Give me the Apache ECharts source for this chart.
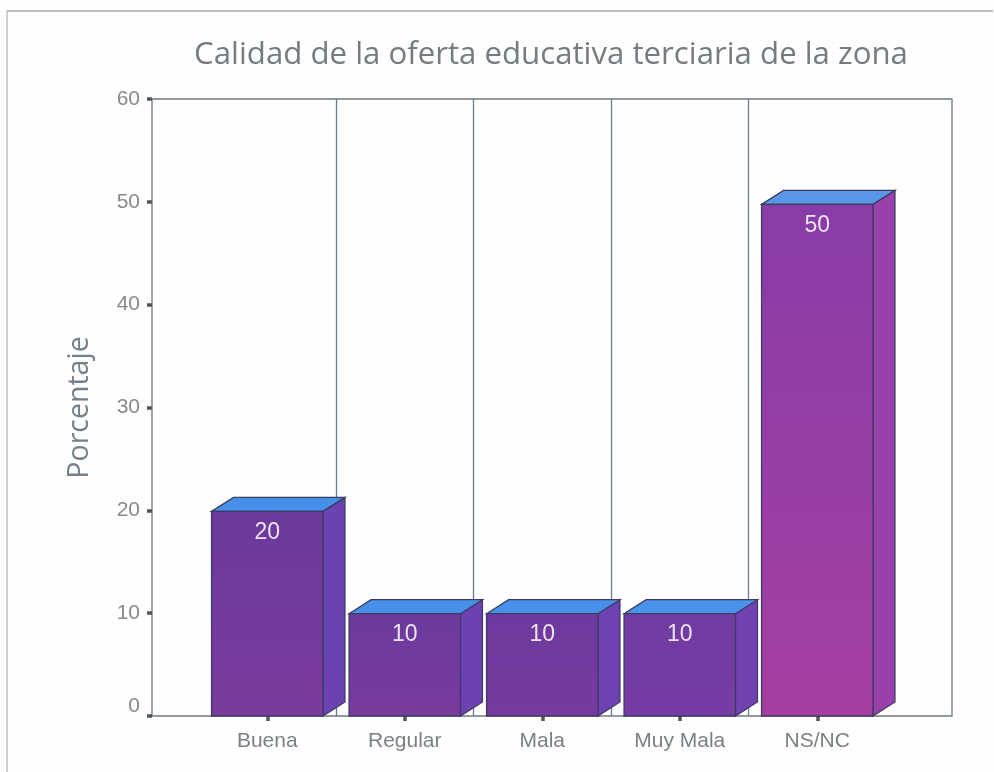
<!DOCTYPE html>
<html><head><meta charset="utf-8">
<style>html,body{margin:0;padding:0;background:#fefefe}#c{width:994px;height:772px}</style>
<script src="https://cdn.jsdelivr.net/npm/echarts@6/dist/echarts.min.js"></script>
</head><body><div id="c"></div>
<script>
const categories = ['Buena', 'Regular', 'Mala', 'Muy Mala', 'NS/NC'];
const percentages = [20, 10, 10, 10, 50];
const yRange = [0, 60];
const barAxisMax = 60.3;
const titleText = 'Calidad de la oferta educativa terciaria de la zona';
const yName = 'Porcentaje';

const frontTop = ['#6b3a9c', '#6c3a9e', '#6e3a9f', '#703ca2', '#883ca8'];
const frontBottom = ['#7c3a9e', '#7a3a9e', '#763aa0', '#773ca4', '#a63fa2'];
const sideColor = ['#6a42b2', '#6c42b2', '#6e42b2', '#7242b0', '#9a40ac'];
const topColor = ['#4690ea', '#4690ea', '#4690ea', '#4a92ea', '#5a96e8'];

const chart = echarts.init(document.getElementById('c'), null, {renderer: 'canvas'});
const DX = 22, DY = -14, BAR = 0.81;
const edge = '#3c3c60';

function renderBar(params, api) {
  const i = api.value(0), v = api.value(1);
  const top = api.coord([i, v]), base = api.coord([i, 0]);
  const w = api.size([1, 0])[0] * BAR;
  const x0 = top[0] - w / 2, x1 = top[0] + w / 2, yT = top[1], yB = base[1];
  const st = {stroke: edge, lineWidth: 1.3};
  const frontFill = new echarts.graphic.LinearGradient(0, 0, 0, 1, [
    {offset: 0, color: frontTop[i]}, {offset: 1, color: frontBottom[i]}
  ]);
  return {type: 'group', children: [
    {type: 'polygon', shape: {points: [[x1, yT], [x1 + DX, yT + DY], [x1 + DX, yB + DY], [x1, yB]]},
      style: Object.assign({fill: sideColor[i]}, st)},
    {type: 'polygon', shape: {points: [[x0, yT], [x0 + DX, yT + DY], [x1 + DX, yT + DY], [x1, yT]]},
      style: Object.assign({fill: topColor[i]}, st)},
    {type: 'rect', shape: {x: x0, y: yT, width: w, height: yB - yT},
      style: Object.assign({fill: frontFill}, st)},
    {type: 'text', style: {text: String(v), x: top[0], y: yT + 21, align: 'center', verticalAlign: 'middle',
      fill: '#ece2f2', font: '23px "Liberation Sans"'}}
  ]};
}

chart.setOption({
  animation: false,
  backgroundColor: '#fefefe',
  title: {text: titleText, left: 546, top: 35, textAlign: 'center',
    textStyle: {color: '#757b7f', fontSize: 31.2, fontWeight: 'normal', fontFamily: 'Open Sans'}},
  graphic: [
    {type: 'line', shape: {x1: 7, y1: 11, x2: 993, y2: 11}, style: {stroke: '#a9adad', lineWidth: 1.3}},
    {type: 'line', shape: {x1: 7, y1: 11, x2: 7, y2: 772}, style: {stroke: '#b5b8b8', lineWidth: 1.3}}
  ],
  grid: [
    {left: 152, top: 99, width: 800, height: 617, show: true, borderColor: '#6f7a80', borderWidth: 1.3, backgroundColor: 'transparent'},
    {left: 198.5, top: 99, width: 687.5, height: 617}
  ],
  xAxis: [
    {type: 'value', gridIndex: 0, show: false, min: 0, max: 1},
    {type: 'category', gridIndex: 1, data: categories,
      axisLine: {show: false},
      axisTick: {show: true, alignWithLabel: true, length: 5, lineStyle: {color: '#555', width: 3.5}},
      axisLabel: {interval: 0, color: '#7b8084', fontSize: 21, margin: 15, fontFamily: 'Liberation Sans'},
      splitLine: {show: true, showMinLine: false, showMaxLine: false, lineStyle: {color: '#6d7a90', width: 1.3}}}
  ],
  yAxis: [
    {type: 'value', gridIndex: 0, min: yRange[0], max: yRange[1], interval: 10,
      name: yName, nameLocation: 'middle', nameGap: 58, nameRotate: 90,
      nameTextStyle: {color: '#76808c', fontSize: 28.5, fontFamily: 'Open Sans'},
      axisLine: {show: false},
      axisTick: {show: true, length: 5, lineStyle: {color: '#555', width: 3.5}},
      axisLabel: {color: '#868a8d', fontSize: 21, margin: 12, fontFamily: 'Liberation Sans',
        formatter: v => v === 0 ? '{z|0}' : String(v),
        rich: {z: {padding: [0, 0, 20, 0], color: '#868a8d', fontSize: 21, fontFamily: 'Liberation Sans'}}},
      splitLine: {show: false}},
    {type: 'value', gridIndex: 1, min: yRange[0], max: barAxisMax, show: false, splitLine: {show: false}}
  ],
  series: [{
    type: 'custom', xAxisIndex: 1, yAxisIndex: 1, clip: false,
    data: percentages.map((v, i) => [i, v]),
    encode: {x: 0, y: 1},
    renderItem: renderBar
  }]
});
</script></body></html>
